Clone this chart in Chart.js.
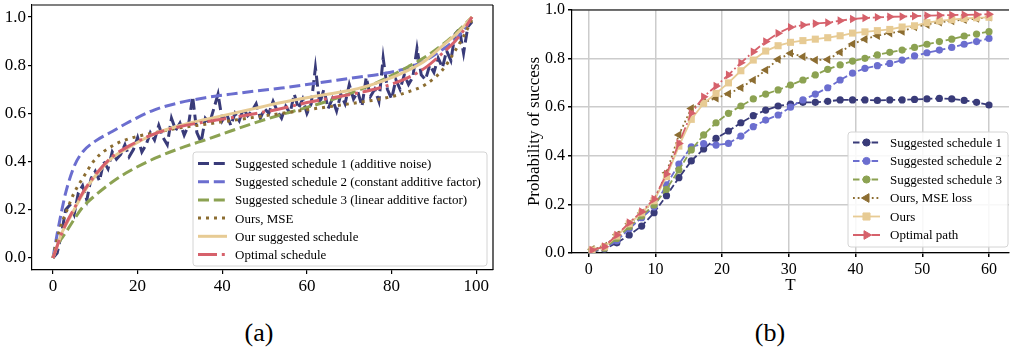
<!DOCTYPE html>
<html>
<head>
<meta charset="utf-8">
<script src="https://cdn.jsdelivr.net/npm/chart.js@4.4.1/dist/chart.umd.min.js"></script>
<style>
  html, body { margin: 0; padding: 0; background: #fff; }
  body { width: 1014px; height: 349px; position: relative; overflow: hidden; font-family: "Liberation Serif", "Times New Roman", serif; }
  #wrapA { position: absolute; left: 0; top: 0; width: 505px; height: 300px; }
  #wrapB { position: absolute; left: 505px; top: 0; width: 509px; height: 300px; }
  .cap { position: absolute; top: 318px; width: 60px; margin-left: -30px; text-align: center; font-size: 26px; line-height: 30px; color: #000; }
</style>
</head>
<body>
<div id="wrapA"><canvas id="chartA" width="505" height="300"></canvas></div>
<div id="wrapB"><canvas id="chartB" width="509" height="300"></canvas></div>
<div class="cap" style="left:259px">(a)</div>
<div class="cap" style="left:770px">(b)</div>
<script>
// ---------- (a) schedules ----------
const stepIdx = Array.from({ length: 100 }, (_, i) => i);
const noisySchedule = [
  0.0, 0.02, 0.1, 0.2, 0.22, 0.18, 0.27, 0.3, 0.24, 0.33,
  0.36, 0.32, 0.4, 0.37, 0.44, 0.41, 0.43, 0.47, 0.42, 0.45,
  0.5, 0.44, 0.47, 0.52, 0.49, 0.55, 0.5, 0.47, 0.58, 0.53,
  0.56, 0.51, 0.55, 0.67, 0.52, 0.48, 0.58, 0.56, 0.62, 0.68,
  0.57, 0.6, 0.55, 0.6, 0.57, 0.62, 0.59, 0.61, 0.64, 0.58,
  0.62, 0.6, 0.65, 0.61, 0.58, 0.63, 0.6, 0.68, 0.62, 0.66,
  0.6, 0.64, 0.79, 0.64, 0.7, 0.62, 0.66, 0.61, 0.68, 0.64,
  0.72, 0.66, 0.69, 0.63, 0.75, 0.67, 0.7, 0.65, 0.83, 0.7,
  0.66, 0.74, 0.7, 0.76, 0.72, 0.75, 0.87, 0.76, 0.74, 0.8,
  0.77, 0.83, 0.79, 0.86, 0.82, 0.93, 0.95, 0.85, 0.96, 0.98
];
const smoothT = [0, 1, 2, 3, 5, 7, 10, 14, 18, 24, 30, 36, 42, 48, 54, 60, 66, 72, 78, 84, 88, 92, 95, 97, 99];
const constFactor = [0, 0.1, 0.19, 0.27, 0.38, 0.44, 0.485, 0.525, 0.565, 0.615, 0.645, 0.665, 0.68, 0.693, 0.705, 0.72, 0.735, 0.75, 0.765, 0.79, 0.82, 0.865, 0.905, 0.945, 1.0];
const linearFactor = [0, 0.05, 0.08, 0.105, 0.16, 0.21, 0.26, 0.315, 0.36, 0.413, 0.455, 0.49, 0.527, 0.563, 0.595, 0.625, 0.657, 0.695, 0.74, 0.795, 0.835, 0.885, 0.93, 0.965, 1.0];
const oursMse = [0, 0.08, 0.14, 0.185, 0.27, 0.33, 0.41, 0.465, 0.495, 0.52, 0.54, 0.555, 0.57, 0.585, 0.6, 0.615, 0.63, 0.645, 0.662, 0.69, 0.72, 0.78, 0.86, 0.92, 0.99];
const oursSchedule = [0, 0.05, 0.1, 0.135, 0.2, 0.265, 0.34, 0.415, 0.46, 0.515, 0.55, 0.575, 0.598, 0.622, 0.645, 0.665, 0.683, 0.703, 0.735, 0.78, 0.82, 0.88, 0.925, 0.96, 1.0];
const optimalSchedule = [0, 0.05, 0.1, 0.14, 0.205, 0.27, 0.345, 0.42, 0.465, 0.515, 0.545, 0.565, 0.582, 0.6, 0.62, 0.645, 0.665, 0.685, 0.71, 0.75, 0.79, 0.85, 0.9, 0.945, 1.0];
const ticksAx = [0, 20, 40, 60, 80, 100];
const ticksAy = [0, 0.2, 0.4, 0.6, 0.8, 1.0];

// ---------- (b) success probability ----------
const Tvals = [0.5, 2.36, 4.22, 6.08, 7.94, 9.8, 11.66, 13.52, 15.38, 17.23, 19.09, 20.95, 22.81, 24.67, 26.53, 28.39, 30.25, 32.11, 33.97, 35.83, 37.69, 39.55, 41.41, 43.27, 45.13, 46.98, 48.84, 50.7, 52.56, 54.42, 56.28, 58.14, 60.0];
const succ1 = [0.005, 0.016, 0.042, 0.074, 0.111, 0.166, 0.236, 0.31, 0.379, 0.428, 0.472, 0.502, 0.536, 0.565, 0.588, 0.605, 0.613, 0.62, 0.62, 0.624, 0.63, 0.63, 0.63, 0.628, 0.63, 0.63, 0.632, 0.634, 0.636, 0.634, 0.628, 0.62, 0.609];
const succ2 = [0.01, 0.02, 0.05, 0.1, 0.145, 0.19, 0.28, 0.366, 0.437, 0.45, 0.444, 0.451, 0.481, 0.52, 0.547, 0.568, 0.6, 0.63, 0.654, 0.68, 0.712, 0.74, 0.76, 0.771, 0.78, 0.794, 0.811, 0.824, 0.835, 0.846, 0.859, 0.87, 0.883];
const succ3 = [0.01, 0.02, 0.06, 0.108, 0.152, 0.198, 0.262, 0.342, 0.424, 0.486, 0.536, 0.575, 0.605, 0.634, 0.654, 0.671, 0.691, 0.712, 0.733, 0.756, 0.774, 0.79, 0.801, 0.815, 0.826, 0.835, 0.846, 0.859, 0.87, 0.88, 0.893, 0.901, 0.911];
const succMse = [0.015, 0.028, 0.075, 0.12, 0.165, 0.215, 0.33, 0.486, 0.595, 0.62, 0.637, 0.655, 0.68, 0.712, 0.753, 0.797, 0.822, 0.808, 0.794, 0.796, 0.826, 0.86, 0.88, 0.894, 0.905, 0.912, 0.93, 0.94, 0.95, 0.955, 0.96, 0.965, 0.97];
const succOurs = [0.012, 0.025, 0.07, 0.12, 0.165, 0.215, 0.314, 0.44, 0.55, 0.616, 0.657, 0.7, 0.75, 0.794, 0.831, 0.853, 0.867, 0.874, 0.88, 0.886, 0.894, 0.905, 0.91, 0.915, 0.92, 0.93, 0.935, 0.948, 0.955, 0.96, 0.965, 0.968, 0.97];
const succOpt = [0.012, 0.026, 0.074, 0.125, 0.17, 0.222, 0.325, 0.451, 0.575, 0.643, 0.687, 0.733, 0.783, 0.828, 0.87, 0.904, 0.929, 0.938, 0.944, 0.948, 0.956, 0.963, 0.967, 0.97, 0.972, 0.973, 0.975, 0.977, 0.978, 0.979, 0.98, 0.981, 0.983];
const ticksBx = [0, 10, 20, 30, 40, 50, 60];
const ticksBy = [0, 0.2, 0.4, 0.6, 0.8, 1.0];

// tab20b colours
const cNavy = '#393b79', cBlue = '#6b6ecf', cGreen = '#8ca252', cBrown = '#8c6d31', cTan = '#e7cb94', cRed = '#d6616b';

Chart.defaults.font.family = '"Liberation Serif", "Times New Roman", serif';
Chart.defaults.color = '#000';

const pairs = (xs, ys) => xs.map((x, i) => ({ x: x, y: ys[i] }));

// rounded legend box drawn on the canvas
const boxLegend = {
  id: 'boxLegend',
  afterDraw(chart, args, o) {
    const ctx = chart.ctx;
    ctx.save();
    ctx.beginPath();
    ctx.roundRect(o.bx0, o.by0, o.bx1 - o.bx0, o.by1 - o.by0, 3);
    ctx.fillStyle = 'rgba(255,255,255,0.85)';
    ctx.fill();
    ctx.strokeStyle = '#d4d4d4';
    ctx.lineWidth = 1;
    ctx.stroke();
    ctx.font = o.font;
    ctx.textBaseline = 'middle';
    chart.data.datasets.forEach((ds, i) => {
      const y = o.row0 + i * o.gap;
      ctx.save();
      ctx.strokeStyle = ds.borderColor;
      ctx.lineWidth = ds.borderWidth;
      ctx.setLineDash(ds.borderDash || []);
      ctx.beginPath();
      ctx.moveTo(o.lx0, y);
      ctx.lineTo(o.lx1, y);
      ctx.stroke();
      ctx.restore();
      if (ds.pointRadius > 0) {
        ctx.fillStyle = ds.borderColor;
        ctx.strokeStyle = ds.borderColor;
        Chart.helpers.drawPoint(ctx, { pointStyle: ds.pointStyle, rotation: ds.pointRotation || 0, radius: ds.pointRadius, borderWidth: 1 }, (o.lx0 + o.lx1) / 2, y);
      }
      ctx.fillStyle = '#000';
      ctx.fillText(ds.label, o.tx, y + 1);
    });
    ctx.restore();
  }
};

// top / right spines
const frame = {
  id: 'frame',
  afterDatasetsDraw(chart, args, o) {
    const a = chart.chartArea, ctx = chart.ctx;
    ctx.save();
    if (o.top) {
      ctx.strokeStyle = o.top; ctx.lineWidth = o.topWidth;
      ctx.beginPath(); ctx.moveTo(a.left, a.top); ctx.lineTo(a.right, a.top); ctx.stroke();
    }
    if (o.right) {
      ctx.strokeStyle = o.right; ctx.lineWidth = 1.2;
      ctx.beginPath(); ctx.moveTo(a.right, a.top); ctx.lineTo(a.right, a.bottom); ctx.stroke();
    }
    ctx.restore();
  }
};

function fixedScale(ticks, size, horiz) {
  return {
    afterBuildTicks: s => { s.ticks = ticks.map(v => ({ value: v })); },
    afterFit: s => {
      if (horiz) s.height = size; else s.width = size;
      s.paddingLeft = 0; s.paddingRight = 0; s.paddingTop = 0; s.paddingBottom = 0;
    }
  };
}

// ---------- chart (a) ----------
const lwA = 3;
const axA = fixedScale(ticksAx, 30, true);
const ayA = fixedScale(ticksAy, 32, false);
new Chart(document.getElementById('chartA'), {
  type: 'line',
  data: {
    datasets: [
      { label: 'Suggested schedule 1 (additive noise)', data: pairs(stepIdx, noisySchedule), borderColor: cNavy, borderWidth: lwA, borderDash: [11, 4.8], pointRadius: 0, tension: 0, order: 6 },
      { label: 'Suggested schedule 2 (constant additive factor)', data: pairs(smoothT, constFactor), borderColor: cBlue, borderWidth: lwA, borderDash: [11, 4.8], pointRadius: 0, cubicInterpolationMode: 'monotone', order: 5 },
      { label: 'Suggested schedule 3 (linear additive factor)', data: pairs(smoothT, linearFactor), borderColor: cGreen, borderWidth: lwA, borderDash: [11, 4.8], pointRadius: 0, cubicInterpolationMode: 'monotone', order: 4 },
      { label: 'Ours, MSE', data: pairs(smoothT, oursMse), borderColor: cBrown, borderWidth: lwA, borderDash: [3, 5], pointRadius: 0, cubicInterpolationMode: 'monotone', order: 3 },
      { label: 'Our suggested schedule', data: pairs(smoothT, oursSchedule), borderColor: cTan, borderWidth: lwA, borderDash: [], pointRadius: 0, cubicInterpolationMode: 'monotone', order: 2 },
      { label: 'Optimal schedule', data: pairs(smoothT, optimalSchedule), borderColor: cRed, borderWidth: lwA, borderDash: [19, 4.8, 3, 4.8], pointRadius: 0, cubicInterpolationMode: 'monotone', order: 1 }
    ]
  },
  options: {
    responsive: false,
    animation: false,
    layout: { padding: { top: 5, right: 12, left: 0, bottom: 0 } },
    scales: {
      x: {
        type: 'linear', min: -4.95, max: 103.95,
        afterBuildTicks: axA.afterBuildTicks, afterFit: axA.afterFit,
        grid: { drawOnChartArea: false, tickLength: 4, color: '#000', lineWidth: 1.2 },
        border: { color: '#000', width: 1.2 },
        ticks: { font: { size: 17 }, color: '#000', padding: 2, maxRotation: 0, autoSkip: false, callback: v => String(v) }
      },
      y: {
        type: 'linear', min: -0.05, max: 1.05,
        afterBuildTicks: ayA.afterBuildTicks, afterFit: ayA.afterFit,
        grid: { drawOnChartArea: false, tickLength: 4, color: '#000', lineWidth: 1.2 },
        border: { color: '#000', width: 1.2 },
        ticks: { font: { size: 17 }, color: '#000', padding: 2, autoSkip: false, callback: v => v.toFixed(1) }
      }
    },
    plugins: {
      legend: { display: false },
      tooltip: { enabled: false },
      frame: { top: '#808080', topWidth: 2, right: '#000' },
      boxLegend: { bx0: 193, by0: 152, bx1: 487, by1: 266, lx0: 198, lx1: 227, tx: 235, row0: 163.5, gap: 18.2, font: '13px "Liberation Serif"' }
    }
  },
  plugins: [frame, boxLegend]
});

// ---------- chart (b) ----------
const lwB = 1.8;
const axB = fixedScale(ticksBx, 47, true);
const ayB = fixedScale(ticksBy, 67, false);
new Chart(document.getElementById('chartB'), {
  type: 'line',
  data: {
    datasets: [
      { label: 'Suggested schedule 1', data: pairs(Tvals, succ1), borderColor: cNavy, backgroundColor: cNavy, borderWidth: lwB, borderDash: [6.5, 2.8], pointStyle: 'circle', pointRadius: 3.6, pointBorderWidth: 0, order: 6 },
      { label: 'Suggested schedule 2', data: pairs(Tvals, succ2), borderColor: cBlue, backgroundColor: cBlue, borderWidth: lwB, borderDash: [6.5, 2.8], pointStyle: 'circle', pointRadius: 3.6, pointBorderWidth: 0, order: 5 },
      { label: 'Suggested schedule 3', data: pairs(Tvals, succ3), borderColor: cGreen, backgroundColor: cGreen, borderWidth: lwB, borderDash: [6.5, 2.8], pointStyle: 'circle', pointRadius: 3.6, pointBorderWidth: 0, order: 4 },
      { label: 'Ours, MSE loss', data: pairs(Tvals, succMse), borderColor: cBrown, backgroundColor: cBrown, borderWidth: lwB, borderDash: [1.8, 2.9], pointStyle: 'triangle', pointRotation: -90, pointRadius: 5, pointBorderWidth: 0, order: 3 },
      { label: 'Ours', data: pairs(Tvals, succOurs), borderColor: cTan, backgroundColor: cTan, borderWidth: lwB, borderDash: [], pointStyle: 'rect', pointRadius: 5, pointBorderWidth: 0, order: 2 },
      { label: 'Optimal path', data: pairs(Tvals, succOpt), borderColor: cRed, backgroundColor: cRed, borderWidth: lwB, borderDash: [11.2, 2.8, 1.8, 2.8], pointStyle: 'triangle', pointRotation: 90, pointRadius: 5, pointBorderWidth: 0, order: 1 }
    ]
  },
  options: {
    responsive: false,
    animation: false,
    layout: { padding: { top: 10, right: 0, left: 0, bottom: 0 } },
    scales: {
      x: {
        type: 'linear', min: -2.5, max: 63,
        afterBuildTicks: axB.afterBuildTicks, afterFit: axB.afterFit,
        grid: { drawOnChartArea: true, tickLength: 4, color: '#cccccc', tickColor: '#000', lineWidth: 1.5 },
        border: { color: '#000', width: 1.2 },
        ticks: { font: { size: 16 }, color: '#000', padding: 3, maxRotation: 0, autoSkip: false, callback: v => String(v) },
        title: { display: true, text: 'T', font: { size: 17 }, color: '#000', padding: { top: 0, bottom: 4 } }
      },
      y: {
        type: 'linear', min: 0, max: 1,
        afterBuildTicks: ayB.afterBuildTicks, afterFit: ayB.afterFit,
        grid: { drawOnChartArea: true, tickLength: 4, color: '#cccccc', tickColor: '#000', lineWidth: 1.5 },
        border: { color: '#000', width: 1.2 },
        ticks: { font: { size: 16 }, color: '#000', padding: 3, autoSkip: false, callback: v => v.toFixed(1) },
        title: { display: true, text: 'Probability of success', font: { size: 17 }, color: '#000', padding: { top: 19, bottom: 0 } }
      }
    },
    plugins: {
      legend: { display: false },
      tooltip: { enabled: false },
      frame: { top: '#000', topWidth: 1.2 },
      boxLegend: { bx0: 343, by0: 132, bx1: 503, by1: 247, lx0: 348, lx1: 375, tx: 385, row0: 142.5, gap: 18.5, font: '13px "Liberation Serif"' }
    }
  },
  plugins: [frame, boxLegend]
});
</script>
</body>
</html>
